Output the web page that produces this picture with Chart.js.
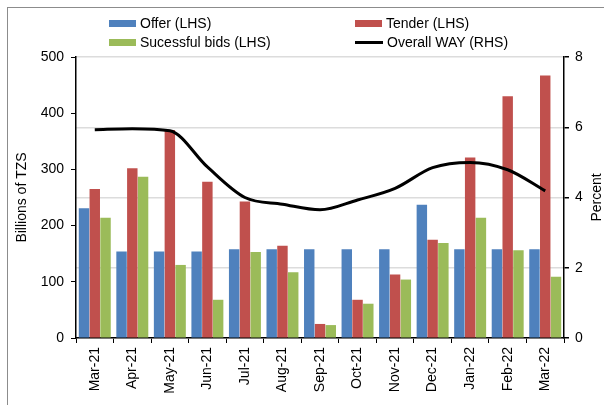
<!DOCTYPE html>
<html>
<head>
<meta charset="utf-8">
<script src="https://cdn.jsdelivr.net/npm/chart.js@4/dist/chart.umd.min.js"></script>
<style>
  body{margin:0;background:#fff;}
  #wrap{position:relative;width:609px;height:405px;font-family:"Liberation Sans",Arial,sans-serif;}
  #frame{position:absolute;left:7px;top:7px;right:5px;bottom:0;border-left:1px solid #8c8c8c;border-top:1px solid #8c8c8c;}
  #myChart{position:absolute;left:0;top:0;}
  .leg{position:absolute;font-size:14px;color:#000;line-height:16px;white-space:nowrap;}
  .sw{display:inline-block;width:27px;height:7px;vertical-align:middle;margin-right:4px;position:relative;top:-1px;}
  .ln{display:inline-block;width:28px;height:3px;background:#000;vertical-align:middle;margin-right:4px;position:relative;top:-1px;}
</style>
</head>
<body>
<div id="wrap">
  <div id="frame"></div>
  <canvas id="myChart" width="609" height="405"></canvas>
  <div class="leg" style="left:109px;top:15px;"><span class="sw" style="background:#4F81BD"></span>Offer (LHS)</div>
  <div class="leg" style="left:355px;top:15px;"><span class="sw" style="background:#C0504D"></span>Tender (LHS)</div>
  <div class="leg" style="left:109px;top:34px;"><span class="sw" style="background:#9BBB59"></span>Sucessful bids (LHS)</div>
  <div class="leg" style="left:355px;top:34px;"><span class="ln"></span>Overall WAY (RHS)</div>
</div>
<script>
'use strict';

///////////////////////////// data /////////////////////////////
let months=['Mar-21','Apr-21','May-21','Jun-21','Jul-21','Aug-21','Sep-21','Oct-21','Nov-21','Dec-21','Jan-22','Feb-22','Mar-22'];
let offer=[231,154,154,154,158,158,158,158,158,237,158,158,158];
let tender=[265,302,370,278,243,164,25,68,113,175,321,430,467];
let successful=[214,287,130,68,153,117,23,61,104,169,214,156,109];
let way=[5.93,5.96,5.9,4.87,4.0,3.81,3.65,3.93,4.26,4.85,5.0,4.79,4.19];

let leftTicks=[0,100,200,300,400,500];
let rightTicks=[0,2,4,6,8];

let FONT='"Liberation Sans", Arial, sans-serif';

// right axis title reads bottom to top, so draw it by hand
let rightTitle={
    id:'rightTitle',
    afterDraw(chart){
        let ctx=chart.ctx;
        let area=chart.chartArea;
        ctx.save();
        ctx.translate(597,(area.top+area.bottom)/2);
        ctx.rotate(-Math.PI/2);
        ctx.font='14px '+FONT;
        ctx.fillStyle='#000';
        ctx.textAlign='center';
        ctx.textBaseline='middle';
        ctx.fillText('Percent',0,0);
        ctx.restore();
    }
};

let ctx=document.getElementById('myChart');

let myChart=new Chart(ctx,{
    type:'bar',
    data:{
        labels:months,
        datasets:[
            {
                type:'line',
                label:'Overall WAY (RHS)',
                data:way,
                yAxisID:'y1',
                borderColor:'#000',
                borderWidth:3,
                pointRadius:0,
                cubicInterpolationMode:'monotone',
                order:0
            },
            {
                label:'Offer (LHS)',
                data:offer,
                backgroundColor:'#4F81BD',
                borderWidth:0,
                order:1
            },
            {
                label:'Tender (LHS)',
                data:tender,
                backgroundColor:'#C0504D',
                borderWidth:0,
                order:1
            },
            {
                label:'Sucessful bids (LHS)',
                data:successful,
                backgroundColor:'#9BBB59',
                borderWidth:0,
                order:1
            }
        ]
    },
    options:{
        responsive:false,
        animation:false,
        devicePixelRatio:1,
        layout:{padding:{top:57,left:8,right:4,bottom:0}},
        datasets:{bar:{categoryPercentage:0.86,barPercentage:0.97}},
        plugins:{legend:{display:false},tooltip:{enabled:false}},
        scales:{
            x:{
                grid:{offset:true,drawOnChartArea:false,color:'#000',tickLength:5,lineWidth:1},
                border:{color:'#000',width:1.5},
                ticks:{maxRotation:90,minRotation:90,padding:4,color:'#000',font:{family:FONT,size:14}},
                afterFit(scale){scale.height=67;}
            },
            y:{
                position:'left',
                min:0,max:500,
                afterBuildTicks(scale){scale.ticks=leftTicks.map(v=>({value:v}));},
                grid:{drawOnChartArea:false,color:'#000',tickLength:5},
                border:{color:'#000',width:1.5},
                ticks:{padding:7,color:'#000',font:{family:FONT,size:14}},
                title:{display:true,text:'Billions of TZS',color:'#000',font:{family:FONT,size:14},padding:{top:6,bottom:0}},
                afterFit(scale){scale.width=68;}
            },
            y1:{
                position:'right',
                min:0,max:8,
                afterBuildTicks(scale){scale.ticks=rightTicks.map(v=>({value:v}));},
                grid:{color:'#dcdcdc',lineWidth:1.5,tickColor:'#000',tickLength:5},
                border:{color:'#000',width:1.5},
                ticks:{padding:6,color:'#000',font:{family:FONT,size:14}},
                afterFit(scale){scale.width=41;}
            }
        }
    },
    plugins:[rightTitle]
});
</script>
</body>
</html>
